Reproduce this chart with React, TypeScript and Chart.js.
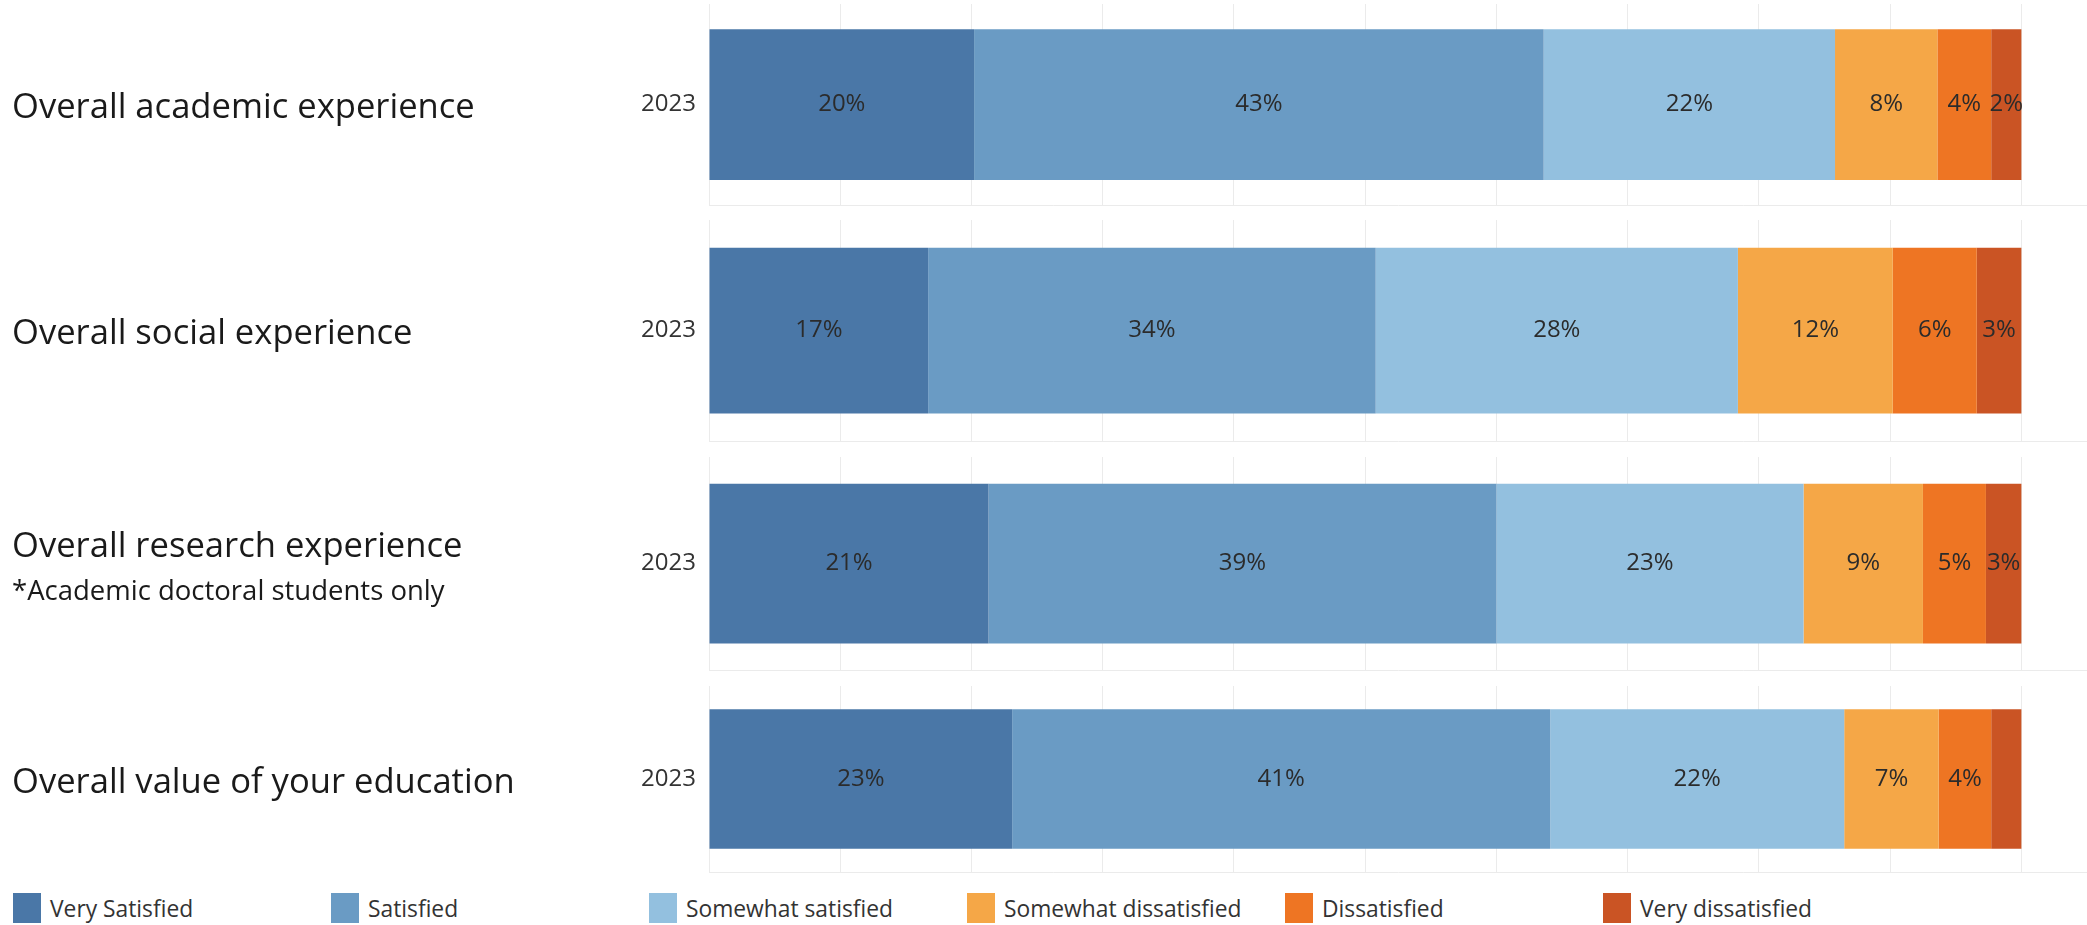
import React, { useEffect, useRef } from "react";
import { Chart, registerables } from "chart.js";

Chart.register(...registerables);

// ---------- data ----------
const categories = [
  "Overall academic experience",
  "Overall social experience",
  "Overall research experience",
  "Overall value of your education",
];
const subtitles = ["", "", "*Academic doctoral students only", ""];
const yearLabels = ["2023"];
const responseLevels = [
  "Very Satisfied",
  "Satisfied",
  "Somewhat satisfied",
  "Somewhat dissatisfied",
  "Dissatisfied",
  "Very dissatisfied",
];
const academicValues = [20.2, 43.4, 22.2, 7.8, 4.1, 2.3];
const socialValues = [16.7, 34.1, 27.6, 11.8, 6.4, 3.4];
const researchValues = [21.3, 38.7, 23.4, 9.1, 4.8, 2.7];
const educationValues = [23.1, 41.0, 22.4, 7.2, 4.0, 2.3];
const hiddenLabels: number[][] = [[], [], [], [5]];
const gridTicks = [0, 10, 20, 30, 40, 50, 60, 70, 80, 90, 100];

// ---------- style ----------
const levelColors = ["#4a77a7", "#6a9bc4", "#93c0df", "#f5a747", "#ee7523", "#ca5424"];
const FONT = "'Open Sans', 'Noto Sans', sans-serif";
const panelTops = [4, 220, 457, 686];
const panelHeights = [202, 222, 214, 187];
const seriesByPanel = [academicValues, socialValues, researchValues, educationValues];
const WIDTH = 2087;
const AXIS_LEFT = 709;

Chart.defaults.font.family = FONT;

function makeLabelPlugin(hidden: number[]) {
  return {
    id: "segLabels",
    afterDatasetsDraw(chart: any) {
      const ctx = chart.ctx;
      ctx.save();
      ctx.fillStyle = "#2b2b2b";
      ctx.font = `24px ${FONT}`;
      ctx.textAlign = "center";
      ctx.textBaseline = "middle";
      chart.data.datasets.forEach((ds: any, i: number) => {
        if (hidden.includes(i)) return;
        const meta = chart.getDatasetMeta(i);
        meta.data.forEach((bar: any, j: number) => {
          const v = ds.data[j];
          const cx = (bar.x + bar.base) / 2;
          ctx.fillText(`${Math.round(v)}%`, cx, bar.y);
        });
      });
      ctx.restore();
    },
  };
}

function PanelChart({ index }: { index: number }) {
  const ref = useRef<HTMLCanvasElement>(null);
  const height = panelHeights[index];
  useEffect(() => {
    const values = seriesByPanel[index];
    const chart = new Chart(ref.current as HTMLCanvasElement, {
      type: "bar",
      data: {
        labels: yearLabels,
        datasets: responseLevels.map((lvl, i) => ({
          label: lvl,
          data: [values[i]],
          backgroundColor: levelColors[i],
          borderWidth: 0,
          barPercentage: 0.75,
          categoryPercentage: 1,
        })),
      },
      options: {
        indexAxis: "y",
        responsive: false,
        maintainAspectRatio: false,
        animation: false,
        layout: { padding: { top: 0, bottom: 1, left: 0, right: 0 } },
        plugins: { legend: { display: false }, tooltip: { enabled: false } },
        scales: {
          x: {
            stacked: true,
            min: 0,
            max: 105,
            afterBuildTicks: (s: any) => {
              s.ticks = gridTicks.map((v) => ({ value: v }));
            },
            afterFit: (s: any) => {
              s.paddingLeft = 0;
              s.paddingRight = 0;
            },
            ticks: { display: false },
            grid: { color: "#ebebeb", drawTicks: false, lineWidth: 1 },
            border: { display: true, color: "#ebebeb", width: 1 },
          },
          y: {
            stacked: true,
            afterFit: (s: any) => {
              s.width = AXIS_LEFT;
              s.paddingTop = 0;
              s.paddingBottom = 0;
            },
            ticks: { padding: 13, color: "#333333", font: { family: FONT, size: 24 } },
            grid: { display: false, drawTicks: false },
            border: { display: false },
          },
        },
      } as any,
      plugins: [makeLabelPlugin(hiddenLabels[index])],
    });
    return () => chart.destroy();
  }, [index]);
  return (
    <canvas
      ref={ref}
      width={WIDTH}
      height={height}
      style={{ position: "absolute", left: 0, top: panelTops[index], width: WIDTH, height }}
    />
  );
}

export default function App() {
  return (
    <div
      style={{
        position: "fixed",
        left: 0,
        top: 0,
        width: WIDTH,
        height: 925,
        background: "#ffffff",
        overflow: "hidden",
        fontFamily: FONT,
      }}
    >
      {categories.map((_, i) => (
        <PanelChart key={i} index={i} />
      ))}
      {categories.map((cat, i) => {
        const center = panelTops[i] + panelHeights[i] / 2;
        const hasSub = subtitles[i] !== "";
        const titleCenter = hasSub ? center - 20 : center;
        return (
          <React.Fragment key={"t" + i}>
            <div
              style={{
                position: "absolute",
                left: 12,
                top: titleCenter - 22,
                height: 44,
                lineHeight: "44px",
                fontSize: 34.6,
                color: "#1a1a1a",
                whiteSpace: "nowrap",
              }}
            >
              {cat}
            </div>
            {hasSub && (
              <div
                style={{
                  position: "absolute",
                  left: 12,
                  top: center + 26 - 18,
                  height: 36,
                  lineHeight: "36px",
                  fontSize: 27.5,
                  color: "#1a1a1a",
                  whiteSpace: "nowrap",
                }}
              >
                {subtitles[i]}
              </div>
            )}
          </React.Fragment>
        );
      })}
      {responseLevels.map((lvl, i) => (
        <div
          key={"l" + i}
          style={{
            position: "absolute",
            left: 13 + i * 318,
            top: 893,
            height: 30,
            display: "flex",
            alignItems: "center",
            whiteSpace: "nowrap",
          }}
        >
          <div style={{ width: 28, height: 30, background: levelColors[i] }} />
          <span style={{ marginLeft: 9, fontSize: 22.8, color: "#333333" }}>{lvl}</span>
        </div>
      ))}
    </div>
  );
}
